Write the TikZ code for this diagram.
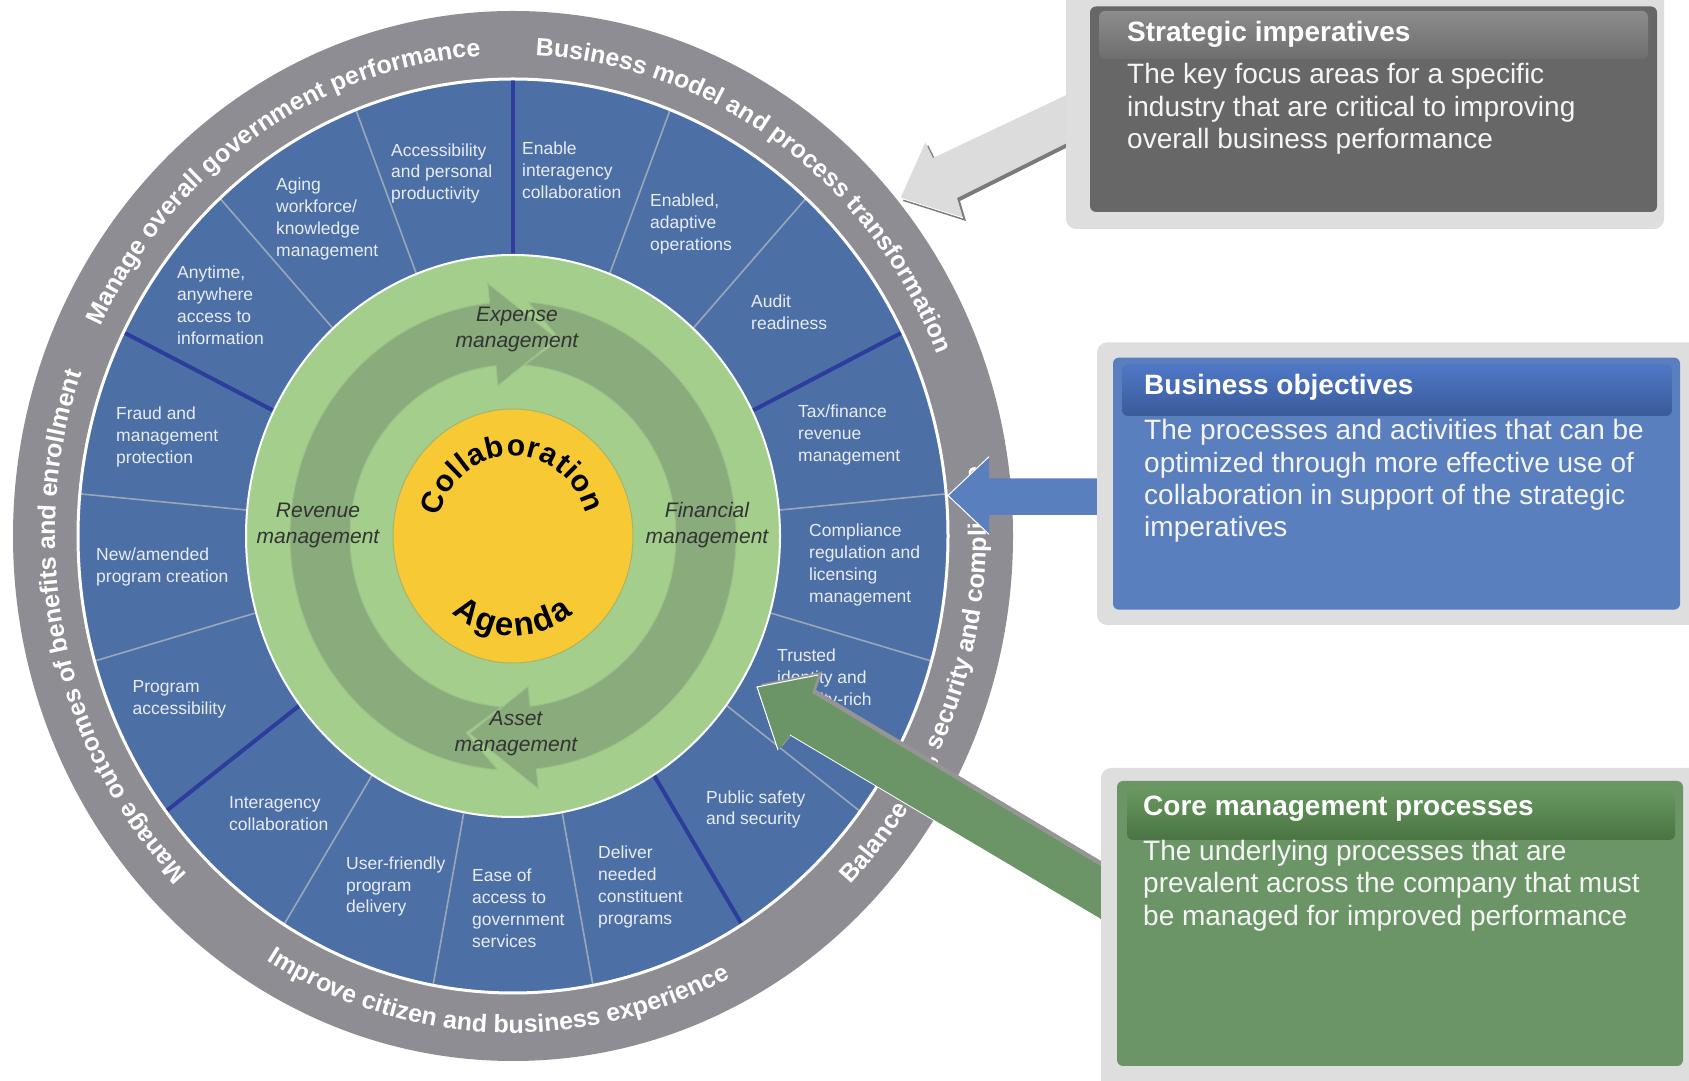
\documentclass[tikz,border=0pt]{standalone}
\usepackage{fontspec}
\setmainfont{Liberation Sans}
\usetikzlibrary{decorations.text}
\definecolor{ringgray}{HTML}{8E8D93}
\definecolor{secblue}{HTML}{4C70A6}
\definecolor{sepline}{HTML}{9BA6B8}
\definecolor{thickline}{HTML}{2E3D9C}
\definecolor{lightgreen}{HTML}{A3CE8C}
\definecolor{darkgreen}{HTML}{8AAB7B}
\definecolor{arrowedge}{HTML}{9CC189}
\definecolor{yellowc}{HTML}{F7C934}
\definecolor{yellowedge}{HTML}{A9B46A}
\definecolor{sectext}{HTML}{E8ECF3}
\definecolor{mgmttext}{HTML}{333333}
\definecolor{framegray}{HTML}{DEDEDE}
\definecolor{strbox}{HTML}{676767}
\definecolor{strhdrtop}{HTML}{8C8C8C}
\definecolor{strhdrbot}{HTML}{6E6E6E}
\definecolor{busbox}{HTML}{5A7FBF}
\definecolor{bushdrtop}{HTML}{4F78C6}
\definecolor{bushdrbot}{HTML}{3A5B9A}
\definecolor{corebox}{HTML}{6C9567}
\definecolor{corehdrtop}{HTML}{6A9A62}
\definecolor{corehdrbot}{HTML}{4A7443}
\definecolor{grayarrow}{HTML}{DCDCDC}
\definecolor{shadowgray}{HTML}{7A7A7A}
\definecolor{bluearrow}{HTML}{5A7FBF}
\definecolor{greenarrow}{HTML}{6C9567}
\tikzset{
  sectxt/.style={anchor=west, align=left, inner sep=0pt, text=sectext, font=\fontsize{17.5}{21.9}\selectfont},
  mgmt/.style={align=center, inner sep=0pt, text=mgmttext, font=\fontsize{21}{26}\selectfont\itshape},
  boxtitle/.style={anchor=west, inner sep=0pt, text=white, font=\fontsize{28}{32}\selectfont\bfseries},
  boxbody/.style={anchor=west, align=left, inner sep=0pt, text=white!96!black, font=\fontsize{28}{32.3}\selectfont},
  thinsep/.style={draw=sepline, line width=1.6pt},
  thicksep/.style={draw=thickline, line width=4pt},
  ringarrow/.style={fill=darkgreen, draw=arrowedge, line width=1pt},
}
\begin{document}
\begin{tikzpicture}[x=1pt,y=1pt]
\useasboundingbox (0,0) rectangle (1689,1081);
\fill[white] (0,0) rectangle (1689,1081);

\begin{scope}[shift={(513,545)}]
  % outer ring and sectors
  \fill[ringgray] (0,0) ellipse [x radius=500, y radius=525];
  \fill[secblue] (0,0) ellipse [x radius=435, y radius=457];
  \foreach \k in {1,2,4,5,6,8,9,10,12,13,15,16}
    \draw[thinsep] ({90-\k*360/17}:435 and 457) -- ({90-\k*360/17}:255 and 268);
  \foreach \k in {0,3,7,11,14}
    \draw[thicksep] ({90-\k*360/17}:435 and 457) -- ({90-\k*360/17}:255 and 268);
  \draw[white, line width=3pt] (0,0) ellipse [x radius=435, y radius=457];
  % green disc
  \fill[lightgreen, draw=white, line width=2pt] (0,0) ellipse [x radius=267, y radius=281];
  % circular arrows
  \filldraw[ringarrow] (86:223 and 234.2) arc[start angle=86, end angle=-84, x radius=223, y radius=234.2]
     -- (-84:242 and 254.1) -- (-103:193 and 202.7) -- (-84:144 and 151.2) -- (-84:163 and 171.2)
     arc[start angle=-84, end angle=86, x radius=163, y radius=171.2] -- (76:193 and 202.7) -- cycle;
  \filldraw[ringarrow] (266:223 and 234.2) arc[start angle=266, end angle=96, x radius=223, y radius=234.2]
     -- (96:242 and 254.1) -- (77:193 and 202.7) -- (96:144 and 151.2) -- (96:163 and 171.2)
     arc[start angle=96, end angle=266, x radius=163, y radius=171.2] -- (256:193 and 202.7) -- cycle;
  % yellow core
  \filldraw[fill=yellowc, draw=yellowedge, line width=1pt] (0,0) ellipse [x radius=120, y radius=127];
  \path[decorate, decoration={text along path, text align={fit to path},
     text={|\fontsize{30}{32}\selectfont\bfseries|Collaboration}}]
     (166:76 and 80) arc[start angle=166, end angle=16, x radius=76, y radius=80];
  \path[decorate, decoration={text along path, text align={fit to path},
     text={|\fontsize{33}{36}\selectfont\bfseries|Agenda}}]
     (-130:95 and 100) arc[start angle=-130, end angle=-51, x radius=95, y radius=100];
  % ring labels
  \path[decorate, decoration={text along path, text align=center, text color=white,
     text={|\fontsize{25}{30}\selectfont\bfseries|Manage overall government performance}}]
     (168.8:458 and 481) arc[start angle=168.8, end angle=78.8, x radius=458, y radius=481];
  \path[decorate, decoration={text along path, text align=center, text color=white,
     text={|\fontsize{25}{30}\selectfont\bfseries|Business model and process transformation}}]
     (100:458 and 481) arc[start angle=100, end angle=10, x radius=458, y radius=481];
  \path[decorate, decoration={text along path, text align=center, text color=white,
     text={|\fontsize{25}{30}\selectfont\bfseries|Balance risk, security and compliance}}]
     (-64.5:473 and 497) arc[start angle=-64.5, end angle=27.5, x radius=473, y radius=497];
  \path[decorate, decoration={text along path, text align=center, text color=white,
     text={|\fontsize{25}{30}\selectfont\bfseries|Improve citizen and business experience}}]
     (-137:473 and 497) arc[start angle=-137, end angle=-47, x radius=473, y radius=497];
  \path[decorate, decoration={text along path, text align=center, text color=white,
     text={|\fontsize{25}{30}\selectfont\bfseries|Manage outcomes of benefits and enrollment}}]
     (237.6:458 and 481) arc[start angle=237.6, end angle=147.6, x radius=458, y radius=481];
\end{scope}

% sector texts
\node[sectxt] (s1) at (522,911) {Enable\\interagency\\collaboration};
\node[sectxt] (s2) at (650,857) {Enabled,\\adaptive\\operations};
\node[sectxt] (s3) at (751,769) {Audit\\readiness};
\node[sectxt] (s4) at (798,646) {Tax/finance\\revenue\\management};
\node[sectxt] (s5) at (809,516) {Compliance\\regulation and\\licensing\\management};
\node[sectxt] (s6) at (777,402) {Trusted\\identity and\\security-rich};
\node[sectxt] (s7) at (706,271.5) {Public safety\\and security};
\node[sectxt] (s8) at (598,194) {Deliver\\needed\\constituent\\programs};
\node[sectxt] (s9) at (472,173) {Ease of\\access to\\government\\services};
\node[sectxt] (s10) at (346,194.5) {User-friendly\\program\\delivery};
\node[sectxt] (s11) at (229,267) {Interagency\\collaboration};
\node[sectxt] (s12) at (132.5,382) {Program\\accessibility};
\node[sectxt] (s13) at (96,514) {New/amended\\program creation};
\node[sectxt] (s14) at (116,644) {Fraud and\\management\\protection};
\node[sectxt] (s15) at (177,776) {Anytime,\\anywhere\\access to\\information};
\node[sectxt] (s16) at (276,862) {Aging\\workforce/\\knowledge\\management};
\node[sectxt] (s17) at (391,907.6) {Accessibility\\and personal\\productivity};

% management labels
\node[mgmt] (expense) at (517,752) {Expense\\management};
\node[mgmt] (revenue) at (318,556) {Revenue\\management};
\node[mgmt] (financial) at (707,556) {Financial\\management};
\node[mgmt] (asset) at (516,348) {Asset\\management};

% block arrows
\fill[shadowgray] ([shift={(3,-3)}]1075,990) -- ([shift={(3,-3)}]933,923) -- ([shift={(3,-3)}]925,939) -- ([shift={(3,-3)}]900,883)
   -- ([shift={(3,-3)}]963,863) -- ([shift={(3,-3)}]957,883) -- ([shift={(3,-3)}]1075,942) -- cycle;
\fill[grayarrow] (1075,990) -- (933,923) -- (925,939) -- (900,883) -- (963,863) -- (957,883) -- (1075,942) -- cycle;
\draw[white, line width=0.8pt] (925,939) -- (900,883) -- (963,863);

\fill[bluearrow] (1105,602.7) -- (989,602.7) -- (989,624.3) -- (948,585.5) -- (989,546.7) -- (989,566) -- (1105,566) -- cycle;
\draw[white, line width=1pt] (989,624.3) -- (948,585.5) -- (989,546.7);

\fill[shadowgray!80] ([shift={(4,3)}]1110,209.2) -- ([shift={(4,3)}]812,388) -- ([shift={(4,3)}]818,406) -- ([shift={(4,3)}]757,394)
   -- ([shift={(4,3)}]778,331) -- ([shift={(4,3)}]790,346) -- ([shift={(4,3)}]1110,156.3) -- cycle;
\fill[greenarrow] (1110,209.2) -- (812,388) -- (818,406) -- (757,394) -- (778,331) -- (790,346) -- (1110,156.3) -- cycle;
\draw[white, line width=1pt] (818,406) -- (757,394) -- (778,331);
\draw[white, line width=0.8pt] (790,346) -- (1100,162);

% Strategic imperatives box
\fill[framegray, rounded corners=10pt] (1066,852) rectangle (1664,1095);
\fill[strbox, rounded corners=6pt] (1090,869) rectangle (1657,1074.5);
\shade[top color=strhdrtop, bottom color=strhdrbot, rounded corners=6pt] (1099,1022) rectangle (1648,1070);
\node[boxtitle] (sititle) at (1127,1047) {Strategic imperatives};
\node[boxbody] (sibody) at (1127,972) {The key focus areas for a specific\\industry that are critical to improving\\overall business performance};

% Business objectives box
\fill[framegray, rounded corners=10pt] (1097,456) rectangle (1705,738.5);
\fill[busbox, rounded corners=6pt] (1113,471.3) rectangle (1680,723.4);
\shade[top color=bushdrtop, bottom color=bushdrbot, rounded corners=6pt] (1122,665) rectangle (1672,717);
\node[boxtitle] (botitle) at (1144,694) {Business objectives};
\node[boxbody] (bobody) at (1144,600) {The processes and activities that can be\\optimized through more effective use of\\collaboration in support of the strategic\\imperatives};

% Core management processes box
\fill[framegray, rounded corners=10pt] (1101,-15) rectangle (1705,313);
\fill[corebox, rounded corners=6pt] (1117,15) rectangle (1683,300);
\shade[top color=corehdrtop, bottom color=corehdrbot, rounded corners=6pt] (1127,241) rectangle (1675,295);
\node[boxtitle] (cmtitle) at (1143,272) {Core management processes};
\node[boxbody] (cmbody) at (1143,195.5) {The underlying processes that are\\prevalent across the company that must\\be managed for improved performance};
\end{tikzpicture}
\end{document}
